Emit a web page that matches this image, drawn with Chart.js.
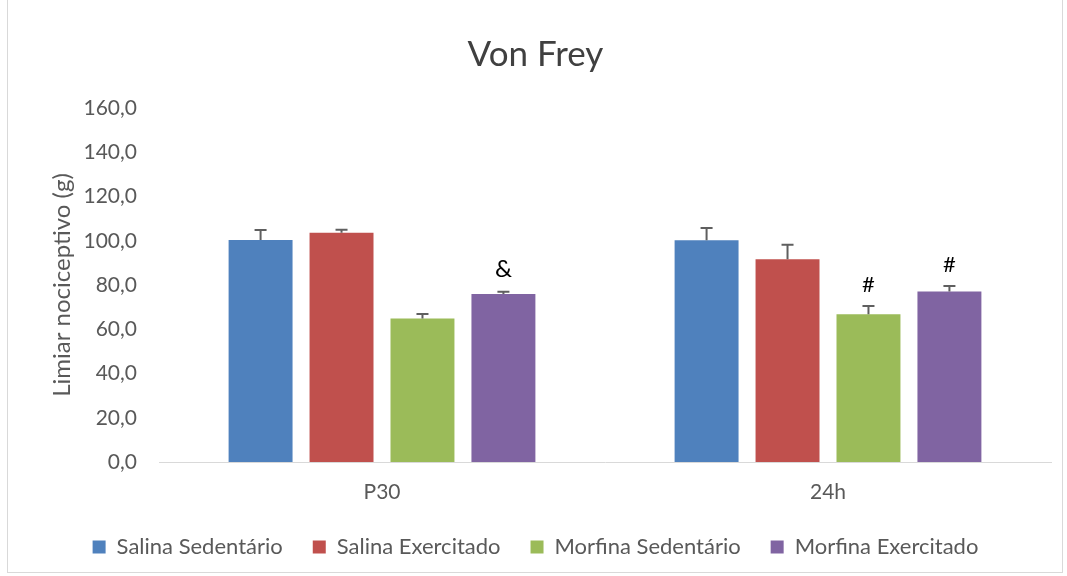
<!DOCTYPE html>
<html>
<head>
<meta charset="utf-8">
<script src="https://cdn.jsdelivr.net/npm/chart.js@4/dist/chart.umd.min.js"></script>
<style>
  body { margin: 0; background: #fff; }
  #frame { position: absolute; left: 7px; top: 0px; width: 1054px; height: 572px; border: 1px solid #d9d9d9; border-top: none; }
  #wrap { position: absolute; left: 0; top: 0; width: 1067px; height: 576px; }
</style>
</head>
<body>
<div id="frame"></div>
<div id="wrap"><canvas id="grafico" width="1067" height="576"></canvas></div>
<script>
// dados
var categorias = ["P30", "24h"];
var salinaSedentario = [100.3, 100.2];
var salinaExercitado = [103.6, 91.6];
var morfinaSedentario = [64.9, 66.8];
var morfinaExercitado = [75.9, 77.1];
// erro padrao (parte de cima)
var erroSalinaSed = [4.6, 5.6];
var erroSalinaExe = [1.4, 6.6];
var erroMorfinaSed = [2.0, 3.7];
var erroMorfinaExe = [1.1, 2.4];
// marcas de significancia
var marcaSalinaSed = ["", ""];
var marcaSalinaExe = ["", ""];
var marcaMorfinaSed = ["", "#"];
var marcaMorfinaExe = ["&", "#"];
var ticksY = [0, 20, 40, 60, 80, 100, 120, 140, 160];

var fonte = "Lato, 'Liberation Sans', sans-serif";
var cinza = "#595959";

var barrasErro = {
    id: "barrasErro",
    afterDatasetsDraw: function (chart) {
        var ctx = chart.ctx;
        var y = chart.scales.y;
        chart.data.datasets.forEach(function (ds, i) {
            var meta = chart.getDatasetMeta(i);
            meta.data.forEach(function (bar, j) {
                var topo = y.getPixelForValue(ds.data[j] + ds.erro[j]);
                ctx.save();
                ctx.strokeStyle = "#5f5f5f";
                ctx.lineWidth = 2;
                ctx.beginPath();
                ctx.moveTo(bar.x, bar.y);
                ctx.lineTo(bar.x, topo);
                ctx.moveTo(bar.x - 6, topo);
                ctx.lineTo(bar.x + 6, topo);
                ctx.stroke();
                if (ds.marca[j]) {
                    ctx.fillStyle = "#000";
                    ctx.font = (ds.marca[j] == "&" ? "24px " : "22px ") + fonte;
                    ctx.textAlign = "center";
                    ctx.textBaseline = "bottom";
                    ctx.fillText(ds.marca[j], bar.x, topo - 10);
                }
                ctx.restore();
            });
        });
    }
};

var ctx = document.getElementById("grafico").getContext("2d");
var grafico = new Chart(ctx, {
    type: "bar",
    data: {
        labels: categorias,
        datasets: [
            { label: "Salina Sedentário", data: salinaSedentario, erro: erroSalinaSed, marca: marcaSalinaSed, backgroundColor: "#4F81BD" },
            { label: "Salina Exercitado", data: salinaExercitado, erro: erroSalinaExe, marca: marcaSalinaExe, backgroundColor: "#C0504D" },
            { label: "Morfina Sedentário", data: morfinaSedentario, erro: erroMorfinaSed, marca: marcaMorfinaSed, backgroundColor: "#9BBB59" },
            { label: "Morfina Exercitado", data: morfinaExercitado, erro: erroMorfinaExe, marca: marcaMorfinaExe, backgroundColor: "#8064A2" }
        ]
    },
    options: {
        responsive: false,
        animation: false,
        categoryPercentage: 0.726,
        barPercentage: 0.79,
        layout: { padding: { left: 20, right: 16, top: 22, bottom: 8 } },
        plugins: {
            title: {
                display: true,
                text: "Von Frey",
                color: "#404040",
                font: { family: fonte, size: 35, weight: "normal" },
                padding: { top: 12, bottom: 32 }
            },
            legend: {
                position: "bottom",
                labels: {
                    boxWidth: 13,
                    boxHeight: 13,
                    color: cinza,
                    padding: 30,
                    font: { family: fonte, size: 22 }
                }
            },
            tooltip: { enabled: false }
        },
        scales: {
            x: {
                afterFit: function (axis) { axis.height = 44; },
                grid: { display: false, drawTicks: false },
                border: { color: "#d9d9d9" },
                ticks: { color: cinza, padding: 18, font: { family: fonte, size: 21 } }
            },
            y: {
                min: 0,
                max: 160,
                afterBuildTicks: function (axis) {
                    axis.ticks = ticksY.map(function (v) { return { value: v }; });
                },
                afterFit: function (axis) { axis.width = 139; },
                grid: { display: false, drawTicks: false },
                border: { display: false },
                ticks: {
                    color: cinza,
                    padding: 22,
                    font: { family: fonte, size: 21 },
                    callback: function (v) { return v.toFixed(1).replace(".", ","); }
                },
                title: {
                    display: true,
                    text: "Limiar nociceptivo (g)",
                    color: cinza,
                    font: { family: fonte, size: 24 },
                    padding: { top: 28, bottom: 0 }
                }
            }
        }
    },
    plugins: [barrasErro]
});
</script>
</body>
</html>
